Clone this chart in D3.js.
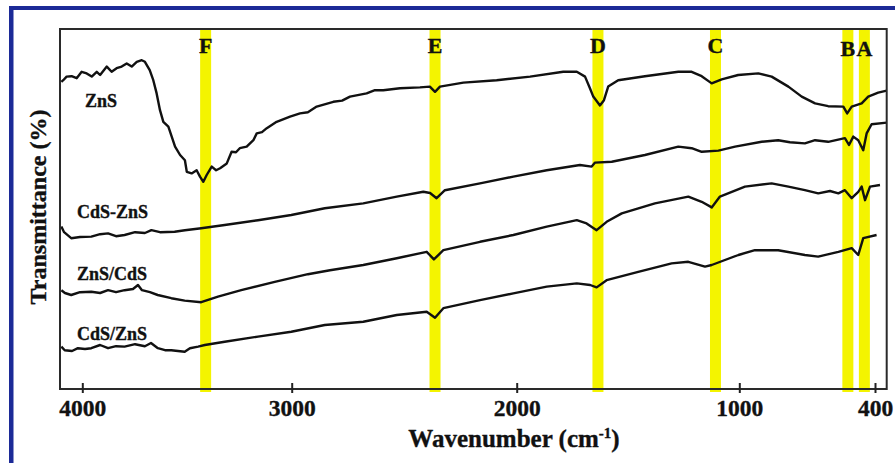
<!DOCTYPE html>
<html>
<head>
<meta charset="utf-8">
<script src="https://cdn.jsdelivr.net/npm/d3@7"></script>
<style>
  body { margin: 0; background: #fff; }
  svg { display: block; }
  text { font-family: "Liberation Serif", "Times New Roman", serif; font-weight: bold; fill: #111; stroke: #111; stroke-width: 0.35px; }
</style>
</head>
<body>
<svg width="895" height="463"></svg>
<script>
// FTIR spectra, [wavenumber (cm-1), transmittance (a.u.)]
const zns = [
    [4100, 76.8], [4091, 77.2], [4075, 78.1], [4051, 78.2], [4027, 77.7], [4003, 79.3], [3979, 78.9],
    [3955, 78.1], [3931, 79.3], [3915, 78.5], [3883, 80.6], [3860, 79.3], [3836, 80.2], [3812, 80.6],
    [3788, 81.4], [3764, 80.6], [3740, 81.8], [3716, 82.2], [3701, 81.8], [3678, 79.7], [3661, 77.2],
    [3645, 73.9], [3629, 69.7], [3613, 66.8], [3589, 65.6], [3573, 63.1], [3557, 60.6], [3533, 58.5],
    [3510, 57.2], [3501, 54.3], [3478, 53.9], [3454, 54.7], [3438, 53.1], [3422, 51.8], [3406, 53.5],
    [3382, 55.6], [3361, 54.7], [3342, 55.2], [3310, 56.4], [3287, 59.3], [3266, 59.2], [3248, 60.2],
    [3215, 60.6], [3183, 62.2], [3167, 63.9], [3142, 64.2], [3119, 65.2], [3072, 66.8], [3008, 68.1],
    [2963, 68.9], [2928, 69.2], [2889, 70.6], [2815, 71.8], [2776, 72.1], [2741, 73.1], [2667, 73.9],
    [2630, 74.7], [2593, 74.7], [2519, 75.2], [2430, 75.4], [2386, 75.6], [2363, 74.3], [2341, 75.6],
    [2237, 76.6], [2089, 77.2], [1940, 78.1], [1791, 79.3], [1730, 79.3], [1693, 78.1], [1671, 75.2],
    [1656, 73.1], [1626, 70.9], [1608, 72.2], [1589, 75.6], [1544, 77.2], [1424, 78.2], [1274, 79.3],
    [1214, 79.3], [1169, 78.2], [1124, 76.4], [1079, 77.4], [1005, 78.5], [916, 78.9], [857, 78.1],
    [783, 75.6], [724, 73.1], [665, 71.4], [607, 70.7], [540, 70.6], [523, 68.9], [503, 70.6],
    [459, 71.4], [430, 73.1], [386, 74.1], [348, 74.6]
];
const cdsDashZns = [
    [4100, 40.6], [4087, 39.2], [4053, 37.7], [4011, 38.0], [3957, 38.1], [3915, 38.7], [3877, 38.9],
    [3839, 38.2], [3798, 38.5], [3748, 39.2], [3701, 39.0], [3670, 39.7], [3629, 39.2], [3559, 39.3],
    [3510, 39.7], [3432, 40.2], [3320, 41.0], [3161, 42.2], [3002, 43.5], [2853, 45.2], [2682, 46.4],
    [2533, 48.1], [2415, 49.3], [2385, 49.0], [2356, 47.7], [2319, 49.7], [2163, 51.4], [2015, 53.1],
    [1865, 54.7], [1716, 56.0], [1663, 55.6], [1648, 56.6], [1573, 56.8], [1424, 58.5], [1274, 60.6],
    [1214, 60.2], [1169, 59.3], [1094, 59.6], [1019, 60.6], [901, 61.8], [828, 62.2], [776, 61.7],
    [710, 61.4], [665, 62.2], [607, 61.8], [533, 62.7], [515, 61.0], [496, 63.1], [474, 62.2],
    [452, 59.7], [437, 63.9], [415, 66.2], [348, 66.6]
];
const znsOnCds = [
    [4100, 24.7], [4083, 24.0], [4053, 23.5], [4011, 24.2], [3957, 24.3], [3915, 24.0], [3877, 24.7],
    [3839, 24.2], [3798, 24.7], [3758, 25.0], [3734, 26.0], [3715, 24.7], [3677, 24.2], [3640, 23.5],
    [3575, 22.7], [3511, 22.1], [3432, 21.7], [3352, 23.1], [3241, 24.7], [3081, 26.8], [2928, 28.7],
    [2830, 29.7], [2682, 31.0], [2533, 32.7], [2400, 34.3], [2368, 32.4], [2326, 34.7], [2163, 36.8],
    [2015, 38.5], [1865, 40.6], [1730, 42.2], [1686, 41.4], [1641, 39.7], [1596, 41.8], [1528, 43.9],
    [1379, 46.4], [1229, 48.1], [1169, 46.8], [1124, 45.4], [1087, 48.1], [975, 50.6], [857, 51.4],
    [783, 50.6], [710, 49.7], [651, 48.9], [599, 49.5], [562, 48.9], [533, 49.7], [503, 47.7],
    [474, 49.3], [459, 50.6], [444, 47.2], [422, 50.6], [378, 51.0]
];
const cdsOnZns = [
    [4100, 10.6], [4084, 9.7], [4049, 9.5], [4021, 10.2], [3987, 10.0], [3957, 10.2], [3915, 11.0],
    [3877, 10.2], [3839, 10.7], [3798, 10.6], [3748, 11.2], [3701, 10.7], [3672, 11.5], [3639, 10.2],
    [3605, 9.7], [3575, 9.7], [3511, 9.3], [3486, 10.2], [3447, 10.6], [3415, 11.0], [3320, 11.8],
    [3161, 13.1], [3002, 14.3], [2853, 16.0], [2682, 16.8], [2533, 18.5], [2400, 19.3], [2363, 17.8],
    [2326, 20.2], [2163, 22.2], [2015, 23.9], [1865, 25.6], [1730, 26.4], [1670, 26.0], [1641, 25.4],
    [1596, 27.2], [1454, 29.3], [1304, 31.4], [1229, 31.8], [1154, 30.6], [1124, 31.0], [1004, 33.5],
    [931, 34.7], [828, 34.7], [710, 33.5], [651, 33.1], [562, 34.3], [503, 35.2], [474, 33.5],
    [452, 37.7], [393, 38.5]
];

const seriesNames = ["ZnS", "CdS-ZnS", "ZnS/CdS", "CdS/ZnS"];
const seriesData = [zns, cdsDashZns, znsOnCds, cdsOnZns];
const labelAt = [[3987, 70.5], [4025, 42.7], [4025, 27.2], [4025, 12.2]];

const bandLabels = ["F", "E", "D", "C", "B", "A"];
const bandCenters = [3411, 2363, 1635, 1107, 520, 447];

const xTicks = [4000, 3000, 2000, 1000, 400];

let svg = d3.select("svg"),
    mLeft = 60, mRight = 886.7, mTop = 29, mBottom = 389;

// the printed axis is not quite uniform, so map it piece by piece
let x = d3.scaleLinear()
    .domain(xTicks)
    .range([82.3, 291.7, 516.7, 739.3, 875]);

let y = d3.scaleLinear()
    .domain([0, 90])
    .range([mBottom, mTop]);

// blue figure border (only top and left are in view)
svg.append("rect").attr("x", 9).attr("y", 6).attr("width", 886).attr("height", 4).attr("fill", "#1c2a97");
svg.append("rect").attr("x", 9).attr("y", 6).attr("width", 4.5).attr("height", 457).attr("fill", "#1c2a97");

// yellow highlight bands
svg.append("g").selectAll("rect")
    .data(bandCenters)
    .enter().append("rect")
    .attr("x", d => x(d) - 5.5)
    .attr("y", mTop)
    .attr("width", 11)
    .attr("height", mBottom - mTop + 3)
    .attr("fill", "#f4f400");

svg.append("g").selectAll("text")
    .data(bandLabels)
    .enter().append("text")
    .attr("x", (d, i) => x(bandCenters[i]))
    .attr("y", (d, i) => i > 3 ? 56 : 53)
    .attr("text-anchor", "middle")
    .attr("font-size", 22)
    .text(d => d);

// spectra
let line = d3.line()
    .x(d => x(d[0]))
    .y(d => y(d[1]));

svg.append("g").selectAll("path")
    .data(seriesData)
    .enter().append("path")
    .attr("d", line)
    .attr("fill", "none")
    .attr("stroke", "#111")
    .attr("stroke-width", 2.4)
    .attr("stroke-linejoin", "round");

svg.append("g").selectAll("text")
    .data(seriesNames)
    .enter().append("text")
    .attr("x", (d, i) => x(labelAt[i][0]))
    .attr("y", (d, i) => y(labelAt[i][1]))
    .attr("font-size", 18)
    .text(d => d);

// frame
svg.append("rect")
    .attr("x", mLeft).attr("y", mTop)
    .attr("width", mRight - mLeft).attr("height", mBottom - mTop)
    .attr("fill", "none")
    .attr("stroke", "#2a2a2a")
    .attr("stroke-width", 2);

let xAxis = svg.append("g")
    .attr("transform", "translate(0," + mBottom + ")")
    .call(d3.axisBottom(x).tickValues(xTicks).tickFormat(d3.format("d")).tickSizeOuter(0));

xAxis.select(".domain").remove();
xAxis.selectAll(".tick line")
    .attr("y1", -6).attr("y2", 4)
    .attr("stroke", "#222").attr("stroke-width", 2);
xAxis.selectAll(".tick text")
    .attr("y", 27).attr("dy", 0)
    .attr("font-size", 23.5)
    .style("font-family", "'Liberation Serif', 'Times New Roman', serif")
    .style("font-weight", "bold")
    .attr("fill", "#111");

// axis titles
let xt = svg.append("text")
    .attr("x", 514)
    .attr("y", 447)
    .attr("text-anchor", "middle")
    .attr("font-size", 25)
    .text("Wavenumber (cm");
xt.append("tspan").attr("font-size", 15).attr("dy", -9).text("-1");
xt.append("tspan").attr("dy", 9).text(")");

svg.append("text")
    .attr("transform", "translate(46,207)rotate(-90)")
    .attr("text-anchor", "middle")
    .attr("font-size", 24)
    .text("Transmittance (%)");
</script>
</body>
</html>
